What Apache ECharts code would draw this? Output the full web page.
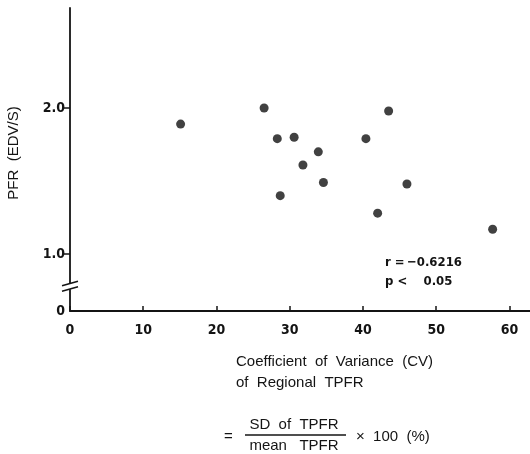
<!DOCTYPE html>
<html>
<head>
<meta charset="utf-8">
<script src="https://cdn.jsdelivr.net/npm/echarts@6/dist/echarts.min.js"></script>
<style>
html,body{margin:0;padding:0;background:#fff;}
#c{width:530px;height:454px;}
</style>
</head>
<body>
<div id="c"></div>
<script>
// CV of regional TPFR (%)
const cvValues = [15.1, 26.5, 28.3, 30.6, 33.9, 31.8, 28.7, 34.6, 40.4, 43.5, 46.0, 42.0, 57.7];
// PFR (EDV/S)
const pfrValues = [1.89, 2.00, 1.79, 1.80, 1.70, 1.61, 1.40, 1.49, 1.79, 1.98, 1.48, 1.28, 1.17];
const xTickLabels = [0, 10, 20, 30, 40, 50, 60];
const yTickValues = [1.0, 2.0];
const yTickLabels = ['1.0', '2.0'];
const yBrokenZeroLabel = '0';
const yAxisName = 'PFR  (EDV/S)';
const xNameLines = ['Coefficient  of  Variance  (CV)', 'of  Regional  TPFR'];
const statLines = ['r =\u2009\u22120.6216', 'p <    0.05'];

const Y_MIN = 0.61, Y_MAX = 2.685, BREAK_AT = 0.78;
const FONT = 'Liberation Sans';
const NARROW = '"DejaVu Sans Condensed", sans-serif';
const INK = '#141414';

const chart = echarts.init(document.getElementById('c'), null, {renderer: 'canvas'});
const pts = cvValues.map((x, i) => [x, pfrValues[i]]);

chart.setOption({
  animation: false,
  backgroundColor: '#fff',
  grid: {left: 70, right: 0, top: 8, bottom: 143, containLabel: false},
  xAxis: {
    type: 'value', min: 0, max: 62.8, interval: 10,
    axisLine: {show: true, onZero: false, lineStyle: {color: INK, width: 1.8}},
    axisTick: {show: true, inside: true, length: 5, lineStyle: {color: INK, width: 1.5}, customValues: xTickLabels},
    axisLabel: {color: INK, fontFamily: NARROW, fontWeight: 'bold', fontSize: 14, margin: 12, customValues: xTickLabels,
      formatter: v => String(v)},
    splitLine: {show: false}
  },
  yAxis: {
    type: 'value', min: Y_MIN, max: Y_MAX,
    axisLine: {show: true, lineStyle: {color: INK, width: 1.8}},
    axisTick: {show: true, length: 6, lineStyle: {color: INK, width: 1.5}, customValues: yTickValues},
    axisLabel: {color: INK, fontFamily: NARROW, fontWeight: 'bold', fontSize: 14, margin: 5,
      customValues: [Y_MIN].concat(yTickValues),
      formatter: v => (v < 0.9 ? yBrokenZeroLabel : yTickLabels[yTickValues.indexOf(v)] || v.toFixed(1))},
    splitLine: {show: false}
  },
  series: [{
    type: 'scatter',
    data: pts,
    symbol: 'circle',
    symbolSize: 9,
    itemStyle: {color: '#111'}
  }]
});

function drawExtras() {
  const x0 = chart.convertToPixel({xAxisIndex: 0}, 0);
  const yb = chart.convertToPixel({yAxisIndex: 0}, BREAK_AT);
  const lw = 1.6;
  const g = [
    {type: 'rect', shape: {x: x0 - 3, y: yb - 3, width: 6, height: 6}, style: {fill: '#fff'}, z: 100},
    {type: 'line', shape: {x1: x0 - 8, y1: yb - 0.5, x2: x0 + 8, y2: yb - 5}, style: {stroke: INK, lineWidth: lw}, z: 101},
    {type: 'line', shape: {x1: x0 - 8, y1: yb + 5, x2: x0 + 8, y2: yb + 0.5}, style: {stroke: INK, lineWidth: lw}, z: 101},
    {type: 'text', rotation: Math.PI / 2, x: 14, y: 153,
      style: {text: yAxisName, fill: INK, font: '15px ' + FONT, align: 'center', verticalAlign: 'middle'}},
    {type: 'text', x: 236, y: 362,
      style: {text: xNameLines[0], fill: INK, font: '15px ' + FONT, align: 'left', verticalAlign: 'middle'}},
    {type: 'text', x: 236, y: 383,
      style: {text: xNameLines[1], fill: INK, font: '15px ' + FONT, align: 'left', verticalAlign: 'middle'}},
    {type: 'text', x: 224, y: 437,
      style: {text: '=', fill: INK, font: '15px ' + FONT, align: 'left', verticalAlign: 'middle'}},
    {type: 'text', x: 294, y: 425,
      style: {text: 'SD  of  TPFR', fill: INK, font: '15px ' + FONT, align: 'center', verticalAlign: 'middle'}},
    {type: 'line', shape: {x1: 245, y1: 435, x2: 346, y2: 435}, style: {stroke: INK, lineWidth: 1.4}},
    {type: 'text', x: 294, y: 446,
      style: {text: 'mean   TPFR', fill: INK, font: '15px ' + FONT, align: 'center', verticalAlign: 'middle'}},
    {type: 'text', x: 356, y: 437,
      style: {text: '\u00d7  100  (%)', fill: INK, font: '15px ' + FONT, align: 'left', verticalAlign: 'middle'}},
    {type: 'text', x: 385, y: 263,
      style: {text: statLines[0], fill: INK, font: 'bold 13px ' + NARROW, align: 'left', verticalAlign: 'middle'}},
    {type: 'text', x: 385, y: 282,
      style: {text: statLines[1], fill: INK, font: 'bold 13px ' + NARROW, align: 'left', verticalAlign: 'middle'}}
  ];
  chart.setOption({graphic: {elements: g}});
}
drawExtras();
</script>
</body>
</html>
